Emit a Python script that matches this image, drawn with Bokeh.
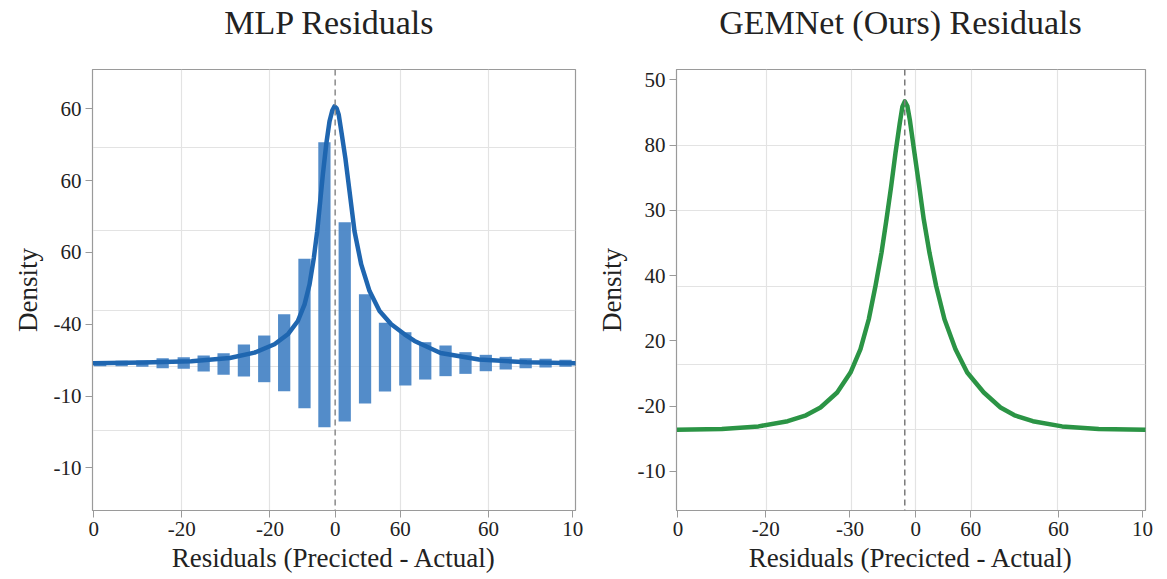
from bokeh.plotting import figure
from bokeh.layouts import row
from bokeh.models import FixedTicker, Span, Range1d, LinearAxis
from bokeh.embed import file_html
from bokeh.resources import INLINE

# ---------------- data ----------------
# MLP panel: fitted curve
mlp_curve_x = [-63.3, -50.0, -37.5, -27.5, -21.04, -15.82, -12.34, -9.73, -7.98, -6.68, -5.56, -4.68,
               -3.90, -3.21, -2.34, -1.47, -0.75, -0.17, 0.4, 0.94, 1.74, 2.66, 3.75, 5.05, 6.80, 8.97,
               11.58, 14.63, 18.10, 20.70, 27.5, 37.5, 50.0, 62.7]
mlp_curve_y = [1.458, 1.468, 1.485, 1.530, 1.605, 1.721, 1.860, 2.045, 2.277, 2.555, 2.925, 3.296,
               3.713, 4.084, 4.501, 4.825, 4.975, 5.034, 5.005, 4.918, 4.640, 4.315, 3.852, 3.296, 2.833,
               2.462, 2.184, 1.999, 1.860, 1.767, 1.600, 1.510, 1.470, 1.458]
# MLP panel: histogram bars (floating bars: bottom .. top)
mlp_bar_x = [-61.3, -55.7, -50.3, -45.0, -39.5, -34.3, -29.1, -23.8, -18.5, -13.3, -8.0, -2.8,
             2.5, 7.8, 13.0, 18.3, 23.5, 28.8, 34.0, 39.3, 44.5, 49.7, 54.9, 60.1]
mlp_bar_top = [1.486, 1.490, 1.495, 1.527, 1.541, 1.565, 1.597, 1.718, 1.843, 2.140, 2.911, 4.536,
               3.422, 2.419, 2.020, 1.889, 1.750, 1.704, 1.611, 1.574, 1.546, 1.527, 1.518, 1.504]
mlp_bar_bottom = [1.416, 1.416, 1.407, 1.388, 1.379, 1.342, 1.295, 1.272, 1.193, 1.068, 0.831, 0.566,
                  0.645, 0.896, 1.063, 1.147, 1.230, 1.277, 1.309, 1.346, 1.370, 1.388, 1.397, 1.407]

# GEMNet panel: fitted curve
gem_curve_x = [-62.4, -50.0, -40.0, -32.0, -27.0, -23.04, -18.48, -14.84, -12.11, -9.84, -8.01, -6.37,
               -5.00, -3.72, -2.54, -1.37, -0.65, 0.0, 0.7, 1.37, 2.65, 3.94, 5.19, 6.75, 8.58, 10.85,
               13.86, 17.06, 21.60, 26.16, 30.0, 35.0, 43.0, 53.0, 65.8]
gem_curve_y = [0.638, 0.650, 0.690, 0.770, 0.860, 0.980, 1.209, 1.515, 1.873, 2.332, 2.841, 3.350,
               3.861, 4.370, 4.879, 5.338, 5.590, 5.670, 5.600, 5.390, 4.879, 4.370, 3.861, 3.350, 2.841,
               2.332, 1.873, 1.515, 1.209, 0.980, 0.860, 0.770, 0.690, 0.650, 0.638]

# tick values and their (printed) labels
mlp_xticks = [-63, -40, -17, 0, 17, 40, 62]
mlp_xlabels = ["0", "-20", "-20", "0", "60", "60", "10"]
mlp_yticks = [0, 1, 2, 3, 4, 5]
mlp_ylabels = ["-10", "-10", "-40", "60", "60", "60"]
mlp_xgrid = [-40, -17, 17, 40]
mlp_ygrid = [0.52, 1.416, 2.191, 3.305, 4.466]

gem_xticks = [-62, -38, -15, 3, 18, 42, 65]
gem_xlabels = ["0", "-20", "-30", "0", "60", "60", "10"]
gem_yticks = [0, 1, 2, 3, 4, 5, 6]
gem_ylabels = ["-10", "-20", "20", "40", "30", "80", "50"]
gem_xgrid = [-37.9, -14.5, 2.8, 18.3, 41.8]
gem_ygrid = [0.638, 1.633, 2.832, 4.005, 5.0]

FONT = "Liberation Serif"
TXT = "#222222"
FRAME = "#9a9a9a"
GRID = "#e3e3e3"


def style(p, xt, xl, yt, yl, xg, yg):
    p.outline_line_color = FRAME
    p.outline_line_width = 1.2
    p.background_fill_color = "white"
    p.border_fill_color = "white"
    for ax in (p.xaxis[0], p.yaxis[0]):
        ax.axis_line_color = FRAME
        ax.major_tick_line_color = FRAME
        ax.minor_tick_line_color = None
        ax.major_tick_out = 7
        ax.major_tick_in = 0
        ax.major_label_text_font = FONT
        ax.major_label_text_font_size = "21px"
        ax.major_label_text_color = TXT
        ax.axis_label_text_font = FONT
        ax.axis_label_text_font_size = "27px"
        ax.axis_label_text_font_style = "normal"
        ax.axis_label_text_color = TXT
    p.xaxis.ticker = FixedTicker(ticks=xt)
    p.xaxis.major_label_overrides = dict(zip(xt, xl))
    p.yaxis.ticker = FixedTicker(ticks=yt)
    p.yaxis.major_label_overrides = dict(zip(yt, yl))
    p.xaxis.axis_label = "Residuals (Precicted - Actual)"
    p.yaxis.axis_label = "Density"
    p.xaxis.major_label_standoff = 4
    p.yaxis.major_label_standoff = 4
    p.xaxis.axis_label_standoff = 4
    p.yaxis.axis_label_standoff = 8
    p.xgrid.ticker = FixedTicker(ticks=xg)
    p.ygrid.ticker = FixedTicker(ticks=yg)
    p.xgrid.grid_line_color = GRID
    p.ygrid.grid_line_color = GRID
    p.xgrid.grid_line_width = 1.2
    p.ygrid.grid_line_width = 1.2


def add_title(p, text, frame_w, cx):
    # the panel title is drawn as the single label of an otherwise invisible top axis
    p.extra_x_ranges = {"title": Range1d(0, frame_w)}
    ax = LinearAxis(x_range_name="title", ticker=FixedTicker(ticks=[cx]),
                    major_label_overrides={cx: text})
    ax.axis_line_color = None
    ax.major_tick_line_color = None
    ax.minor_tick_line_color = None
    ax.major_tick_out = 0
    ax.major_tick_in = 0
    ax.major_label_standoff = 29
    ax.major_label_text_font = FONT
    ax.major_label_text_font_size = "34px"
    ax.major_label_text_color = TXT
    p.add_layout(ax, "above")


p1 = figure(width=593, height=579,
            x_range=Range1d(-63.3, 62.7), y_range=Range1d(-0.594, 5.548),
            output_backend="svg", toolbar_location=None,
            min_border_left=92, min_border_right=18, min_border_top=68, min_border_bottom=69)
style(p1, mlp_xticks, mlp_xlabels, mlp_yticks, mlp_ylabels, mlp_xgrid, mlp_ygrid)
p1.vbar(x=mlp_bar_x, top=mlp_bar_top, bottom=mlp_bar_bottom, width=3.2,
        fill_color="#4a86c6", line_color=None, fill_alpha=0.95)
p1.add_layout(Span(location=0, dimension="height", line_color="#8a8a8a",
                   line_dash="6 4", line_width=1.5))
p1.line(mlp_curve_x, mlp_curve_y, line_color="#1f66b0", line_width=4.5,
        line_join="round", line_cap="round")
add_title(p1, "MLP Residuals", 483, 237)

p2 = figure(width=574, height=579,
            x_range=Range1d(-62.4, 65.8), y_range=Range1d(-0.599, 6.159),
            output_backend="svg", toolbar_location=None,
            min_border_left=83, min_border_right=22, min_border_top=68, min_border_bottom=69)
style(p2, gem_xticks, gem_xlabels, gem_yticks, gem_ylabels, gem_xgrid, gem_ygrid)
p2.add_layout(Span(location=0, dimension="height", line_color="#7a7a7a",
                   line_dash="6 4", line_width=1.5))
p2.line(gem_curve_x, gem_curve_y, line_color="#2b9445", line_width=4.5,
        line_join="round", line_cap="round")
add_title(p2, "GEMNet (Ours) Residuals", 469, 224)

layout = row(p1, p2)
open("out.html", "w").write(file_html(layout, INLINE))
